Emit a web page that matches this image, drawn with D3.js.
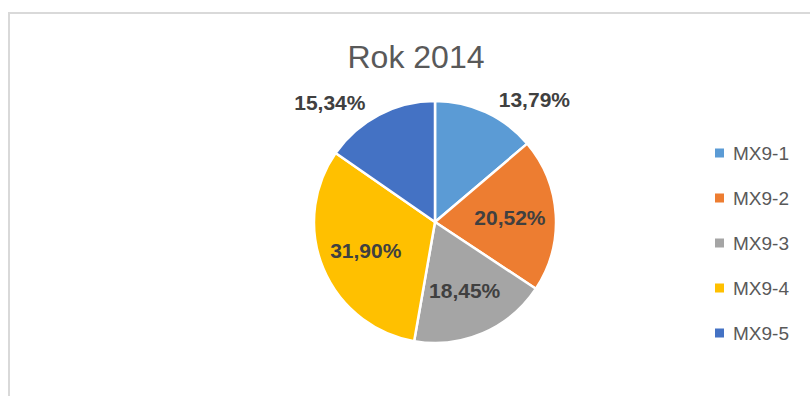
<!DOCTYPE html>
<html>
<head>
<meta charset="utf-8">
<script src="https://cdn.jsdelivr.net/npm/d3@7"></script>
<style>
  body { margin: 0; background: #fff; }
  svg { display: block; }
</style>
</head>
<body>
<div id="chart"></div>
<script>
// data
const categories = ["MX9-1", "MX9-2", "MX9-3", "MX9-4", "MX9-5"];
const values = [13.79, 20.52, 18.45, 31.90, 15.34];
const labels = ["13,79%", "20,52%", "18,45%", "31,90%", "15,34%"];
const colors = ["#5B9BD5", "#ED7D31", "#A5A5A5", "#FFC000", "#4472C4"];
const title = "Rok 2014";

const width = 810, height = 396;
const cx = 435, cy = 222, radius = 121;

const svg = d3.select("#chart")
    .append("svg")
    .attr("width", width)
    .attr("height", height);

// chart area border (runs off the right and bottom)
svg.append("rect")
    .attr("x", 9)
    .attr("y", 13)
    .attr("width", 830)
    .attr("height", 420)
    .attr("fill", "#fff")
    .attr("stroke", "#d9d9d9")
    .attr("stroke-width", 2);

svg.append("text")
    .attr("x", 416)
    .attr("y", 68)
    .attr("text-anchor", "middle")
    .style("font", "32px 'Liberation Sans', Arial, sans-serif")
    .attr("fill", "#595959")
    .text(title);

const pie = d3.pie().sort(null).value(d => d)(values);
const arc = d3.arc().innerRadius(0).outerRadius(radius);

const g = svg.append("g").attr("transform", `translate(${cx},${cy})`);

g.selectAll("path")
    .data(pie)
    .join("path")
    .attr("d", arc)
    .attr("fill", (d, i) => colors[i])
    .attr("stroke", "#fff")
    .attr("stroke-width", 2.5)
    .attr("stroke-linejoin", "round");

// data labels: inside when the slice is wide enough, otherwise outside
const inner = d3.arc().innerRadius(radius * 0.62).outerRadius(radius * 0.62);
const labelW = 75, labelH = 16;
g.selectAll("text.lbl")
    .data(pie)
    .join("text")
    .attr("class", "lbl")
    .attr("text-anchor", "middle")
    .attr("dy", "0.36em")
    .style("font", "bold 21px 'Liberation Sans', Arial, sans-serif")
    .attr("fill", "#404040")
    .attr("transform", d => {
        const mid = (d.startAngle + d.endAngle) / 2;
        if (d.value >= 17) {
            const [x, y] = inner.centroid(d);
            return `translate(${x},${y})`;
        }
        const r = radius * 1.1;
        const px = Math.sin(mid) * r, py = -Math.cos(mid) * r;
        const sx = Math.sin(mid) >= 0 ? 1 : -1;
        const sy = Math.cos(mid) >= 0 ? -1 : 1;
        return `translate(${px + sx * (labelW / 2 + 6)},${py + sy * 2})`;
    })
    .text((d, i) => labels[i]);

// legend
const legend = svg.append("g")
    .attr("transform", "translate(715,153)")
    .selectAll("g")
    .data(categories)
    .join("g")
    .attr("transform", (d, i) => `translate(0,${i * 45})`);

legend.append("rect")
    .attr("x", 0)
    .attr("y", -4.5)
    .attr("width", 9)
    .attr("height", 9)
    .attr("fill", (d, i) => colors[i]);

legend.append("text")
    .attr("x", 18)
    .attr("dy", "0.36em")
    .style("font", "19px 'Liberation Sans', Arial, sans-serif")
    .attr("fill", "#595959")
    .text(d => d);
</script>
</body>
</html>
